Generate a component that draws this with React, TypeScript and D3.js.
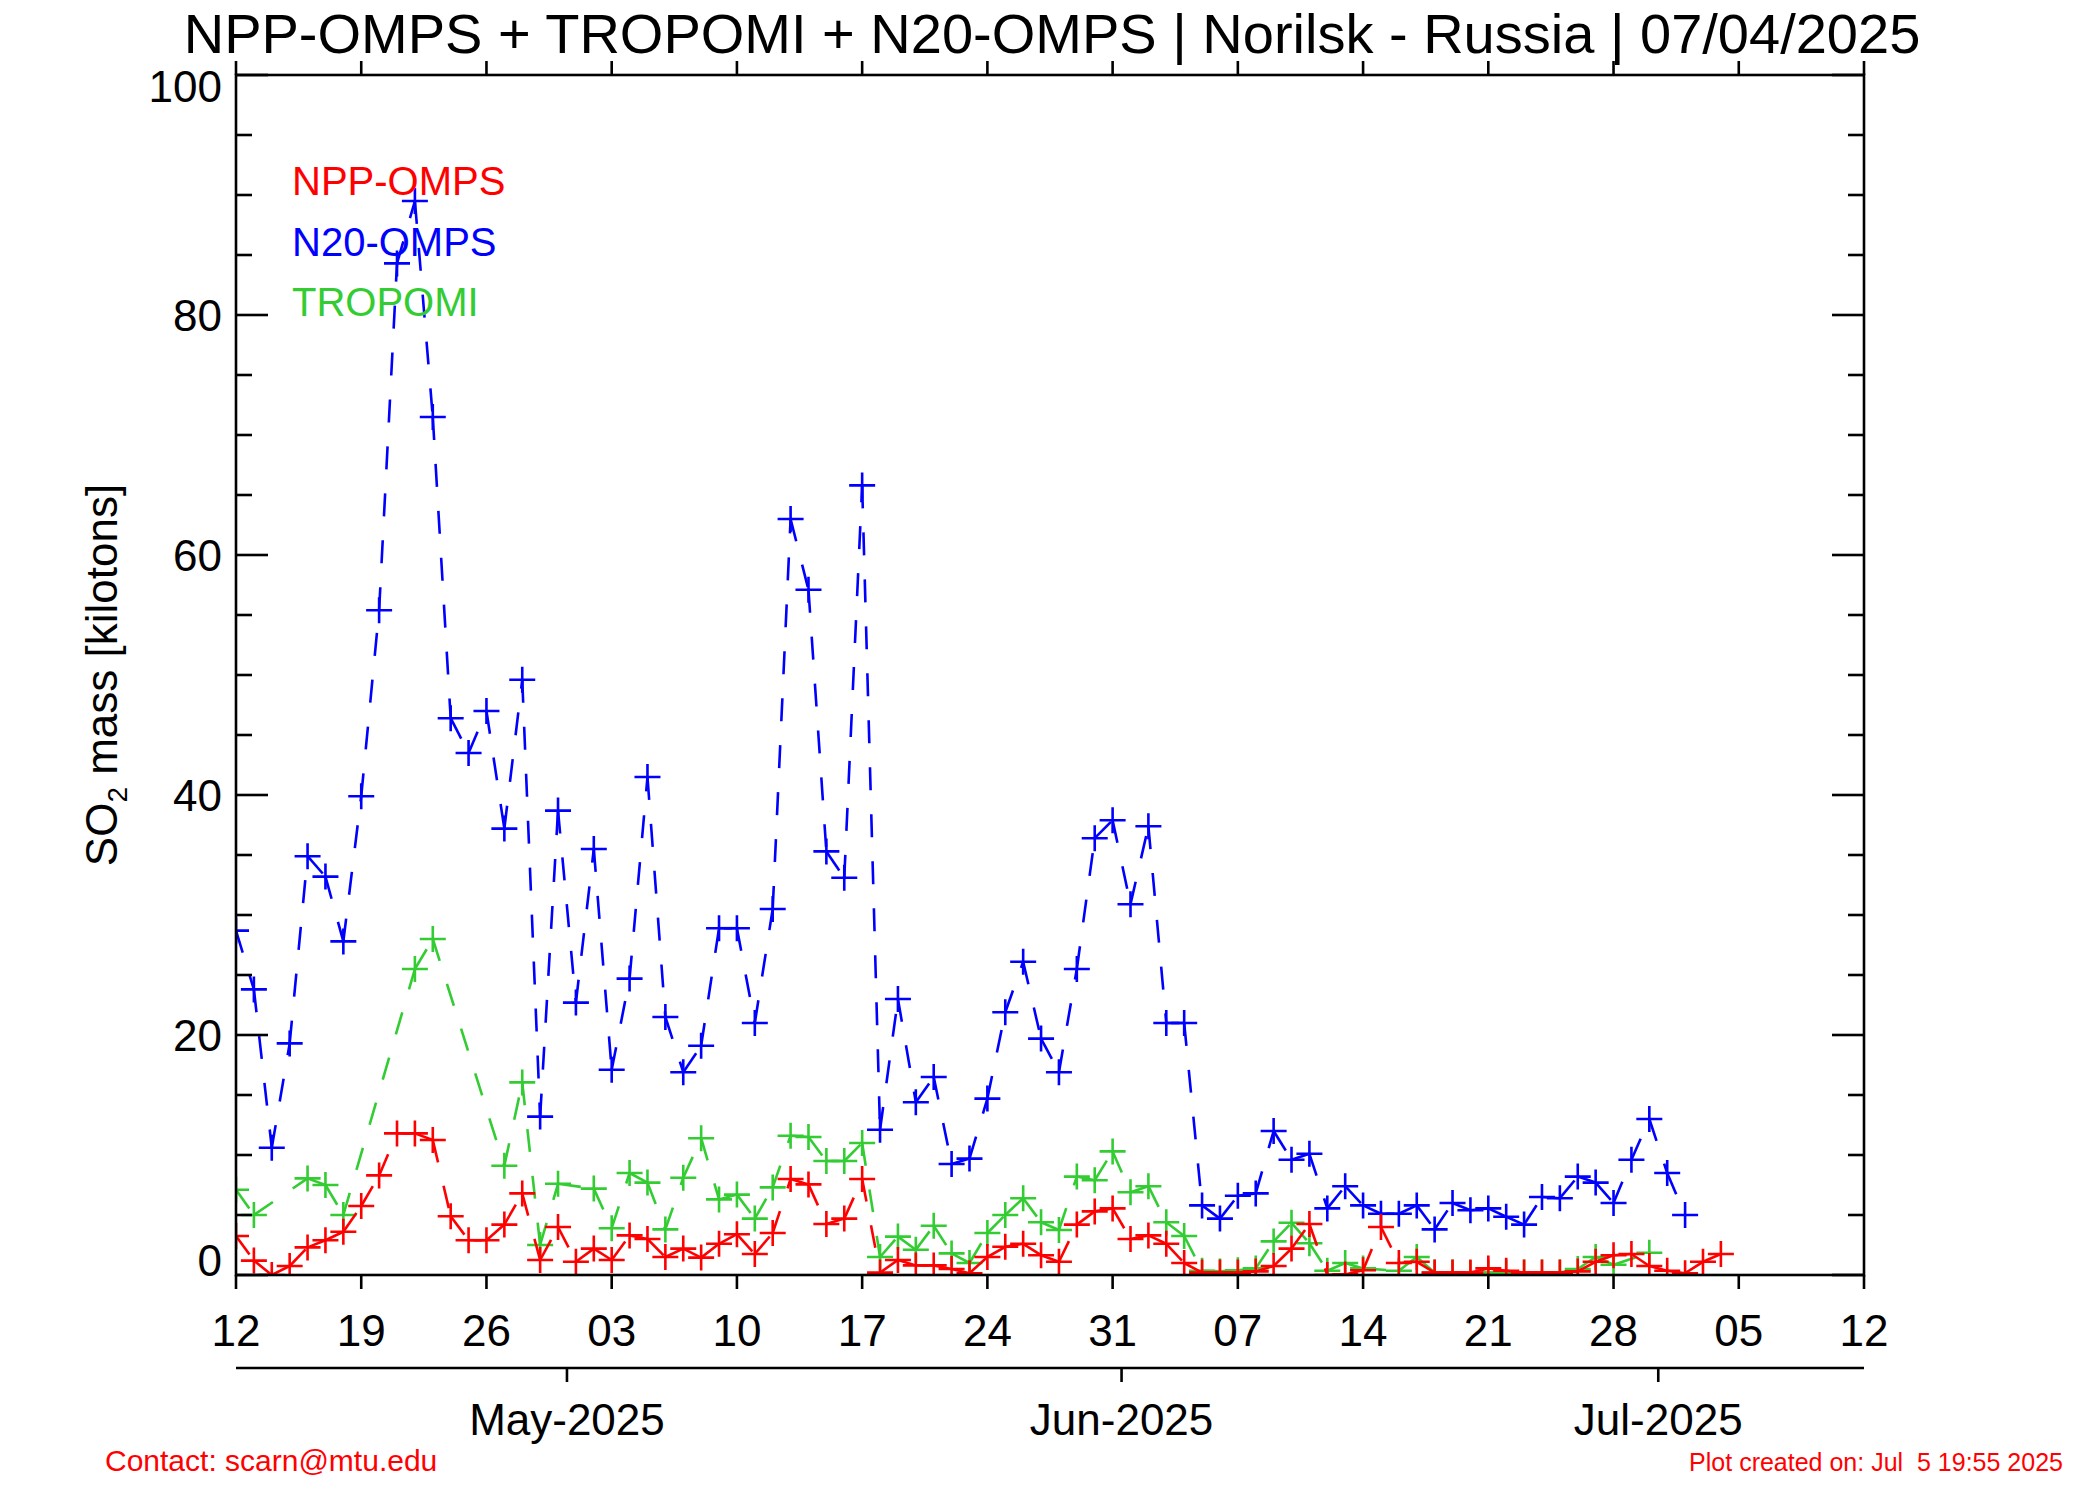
import React from 'react';
import * as d3 from 'd3';

const W = 2100;
const H = 1500;
const plot = { left: 236, right: 1864, top: 75, bottom: 1275 };

const startDate = new Date(Date.UTC(2025, 3, 12));
const endDate = new Date(Date.UTC(2025, 6, 12));

// daily SO2 mass [kt], first value = 12 Apr 2025, null = no retrieval
const n20Omps = [
  28.7, 23.8, 10.6, 19.3, 34.9, 33.2, 27.8, 39.9, 55.4, 84.3,
  89.5, 71.5, 46.4, 43.5, 47.0, 37.2, 49.6, 13.2, 38.7, 22.7,
  35.5, 17.1, 24.7, 41.5, 21.5, 16.9, 19.1, 28.9, 28.9, 21.0,
  30.5, 63.0, 57.1, 35.3, 33.1, 65.8, 12.1, 23.0, 14.4, 16.5,
  9.25, 9.7, 14.7, 21.9, 26.1, 19.7, 16.9, 25.5, 36.4, 37.9,
  30.9, 37.4, 21.0, 21.0, 5.8, 4.7, 6.6, 6.8, 12.0, 9.6,
  10.1, 5.55, 7.4, 5.8, 5.1, 5.1, 5.8, 3.8, 6.0, 5.4,
  5.55, 4.85, 4.2, 6.5, 6.4, 8.2, 7.7, 6.0, 9.6, 13.0,
  8.5, 5.0,
];

const nppOmps = [
  3.25, 1.2, 0, 0.75, 2.3, 2.9, 3.6, 5.75, 8.3, 11.8,
  11.8, 11.25, 4.9, 2.9, 2.9, 4.2, 6.8, 1.25, 4.0, 1.1,
  2.2, 1.25, 3.3, 3.0, 1.5, 2.2, 1.45, 2.6, 3.4, 1.75,
  3.5, 8.0, 7.55, 4.25, 4.7, 8.0, 0.2, 1.25, 0.8, 0.8,
  0.5, 0.15, 1.5, 2.35, 2.6, 1.65, 1.1, 4.2, 5.3, 5.55,
  3.0, 3.3, 2.6, 1.0, 0.2, 0.2, 0.2, 0.3, 0.75, 2.2,
  4.25, 0, 0.05, 0.4, 4.0, 1.0, 1.1, 0.2, 0.2, 0.2,
  0.55, 0.35, 0.2, 0.2, 0.2, 0.3, 1.1, 1.65, 1.75, 0.75,
  0.35, 0.15, 1.1, 1.75,
];

const tropomi = [
  7.1, 5.0, null, null, 8.05, 7.5, 5.0, null, null, null,
  25.5, 28.0, null, null, null, 9.1, 16.05, 2.5, 7.6, null,
  7.2, 3.9, 8.5, 7.7, 3.8, 8.1, 11.4, 6.3, 6.7, 4.7,
  7.3, 11.6, 11.5, 9.5, 9.5, 11.0, 1.5, 3.2, 2.1, 4.1,
  1.8, 1.0, 3.5, 5.0, 6.4, 4.4, 3.75, 8.2, 7.9, 10.3,
  6.9, 7.4, 4.4, 3.25, 0.35, 0.3, 0.4, 0.55, 2.8, 4.35,
  2.65, 0.35, 1.0, 0.55, null, 0.35, 1.5, 0.2, 0.2, 0.15,
  0.2, 0.2, 0.2, 0.2, 0.2, 0.5, 1.5, 0.85, null, 1.85,
];

const seriesNames = ['NPP-OMPS', 'N20-OMPS', 'TROPOMI'];
const seriesColors = ['#ff0000', '#0000ff', '#33cc33'];
const seriesValues = [nppOmps, n20Omps, tropomi];
// drawing order (blue below, then green, red on top)
const drawOrder = [1, 2, 0];

const yMajorTicks = [0, 20, 40, 60, 80, 100];
const monthStarts = [
  new Date(Date.UTC(2025, 4, 1)),
  new Date(Date.UTC(2025, 5, 1)),
  new Date(Date.UTC(2025, 6, 1)),
];

const FONT = '"Liberation Sans", Arial, Helvetica, sans-serif';

const x = d3.scaleUtc().domain([startDate, endDate]).range([plot.left, plot.right]);
const y = d3.scaleLinear().domain([0, 100]).range([plot.bottom, plot.top]);

const fmtDay = d3.utcFormat('%d');
const fmtMonth = d3.utcFormat('%b-%Y');

const plus = 'M-13,0H13M0,-13V13';

function Series({ values, color }: { values: (number | null)[]; color: string }) {
  const pts = values
    .map((v, i) => ({ d: d3.utcDay.offset(startDate, i), v }))
    .filter((p) => p.v !== null) as { d: Date; v: number }[];
  const segs = d3.pairs(pts);
  return (
    <g>
      {segs.map(([a, b], i) => (
        <line
          key={'s' + i}
          x1={x(a.d)}
          y1={y(a.v)}
          x2={x(b.d)}
          y2={y(b.v)}
          stroke={color}
          strokeWidth={2.6}
          strokeDasharray="23 24"
        />
      ))}
      {pts.map((p, i) => (
        <path
          key={'m' + i}
          d={plus}
          transform={`translate(${x(p.d)},${y(p.v)})`}
          stroke={color}
          strokeWidth={2.6}
          fill="none"
        />
      ))}
    </g>
  );
}

export default function App() {
  const weekTicks = d3.utcDay.range(startDate, d3.utcDay.offset(endDate, 1), 7);
  const yMinor = d3.range(0, 101, 5).filter((v) => v % 20 !== 0);
  const monthAxisY = 1368;

  return (
    <svg
      width={W}
      height={H}
      viewBox={`0 0 ${W} ${H}`}
      style={{ position: 'absolute', left: 0, top: 0, background: '#fff' }}
      fontFamily={FONT}
    >
      <rect width={W} height={H} fill="#fff" />
      <defs>
        <clipPath id="plot-clip">
          <rect
            x={plot.left}
            y={plot.top}
            width={plot.right - plot.left}
            height={plot.bottom - plot.top}
          />
        </clipPath>
      </defs>

      <text x={(plot.left + plot.right) / 2 + 2} y={53} fontSize={56} textAnchor="middle" fill="#000">
        NPP-OMPS + TROPOMI + N20-OMPS | Norilsk - Russia | 07/04/2025
      </text>

      <g clipPath="url(#plot-clip)">
        {drawOrder.map((k) => (
          <Series key={seriesNames[k]} values={seriesValues[k]} color={seriesColors[k]} />
        ))}
      </g>

      {/* frame */}
      <rect
        x={plot.left}
        y={plot.top}
        width={plot.right - plot.left}
        height={plot.bottom - plot.top}
        fill="none"
        stroke="#000"
        strokeWidth={2.6}
      />

      {/* y ticks, both sides, pointing inward */}
      {yMajorTicks.map((v) => (
        <g key={'ym' + v}>
          <line x1={plot.left} x2={plot.left + 32} y1={y(v)} y2={y(v)} stroke="#000" strokeWidth={2.6} />
          <line x1={plot.right} x2={plot.right - 32} y1={y(v)} y2={y(v)} stroke="#000" strokeWidth={2.6} />
          <text
            x={222}
            y={v === 100 ? y(v) + 27 : v === 0 ? y(v) + 1 : y(v)}
            dy={v === 0 || v === 100 ? 0 : '0.36em'}
            fontSize={44}
            textAnchor="end"
            fill="#000"
          >
            {v}
          </text>
        </g>
      ))}
      {yMinor.map((v) => (
        <g key={'yn' + v}>
          <line x1={plot.left} x2={plot.left + 16} y1={y(v)} y2={y(v)} stroke="#000" strokeWidth={2.6} />
          <line x1={plot.right} x2={plot.right - 16} y1={y(v)} y2={y(v)} stroke="#000" strokeWidth={2.6} />
        </g>
      ))}

      {/* weekly ticks, top and bottom, pointing outward */}
      {weekTicks.map((d, i) => (
        <g key={'w' + i}>
          <line x1={x(d)} x2={x(d)} y1={plot.top} y2={plot.top - 14} stroke="#000" strokeWidth={2.6} />
          <line x1={x(d)} x2={x(d)} y1={plot.bottom} y2={plot.bottom + 14} stroke="#000" strokeWidth={2.6} />
          <text x={x(d)} y={1346} fontSize={44} textAnchor="middle" fill="#000">
            {fmtDay(d)}
          </text>
        </g>
      ))}

      {/* month axis */}
      <line x1={plot.left} x2={plot.right} y1={monthAxisY} y2={monthAxisY} stroke="#000" strokeWidth={2.6} />
      {monthStarts.map((d, i) => {
        const mx = x(d3.utcHour.offset(d, -12));
        return (
          <g key={'mo' + i}>
            <line x1={mx} x2={mx} y1={monthAxisY} y2={monthAxisY + 14} stroke="#000" strokeWidth={2.6} />
            <text x={mx} y={1435} fontSize={44} textAnchor="middle" fill="#000">
              {fmtMonth(d)}
            </text>
          </g>
        );
      })}

      {/* y title */}
      <text transform={`translate(117,${(plot.top + plot.bottom) / 2}) rotate(-90)`} fontSize={44} textAnchor="middle" fill="#000">
        SO<tspan fontSize={28} dy={10}>2</tspan>
        <tspan dy={-10}> mass [kilotons]</tspan>
      </text>

      {/* legend */}
      {seriesNames.map((name, i) => (
        <text key={name} x={292} y={195 + i * 60.6} fontSize={40} fill={seriesColors[i]}>
          {name}
        </text>
      ))}

      <text x={105} y={1471} fontSize={30} fill="#ff0000">
        Contact: scarn@mtu.edu
      </text>
      <text x={2063} y={1471} fontSize={25} fill="#ff0000" textAnchor="end" style={{ whiteSpace: 'pre' }}>
        {'Plot created on: Jul  5 19:55 2025'}
      </text>
    </svg>
  );
}
